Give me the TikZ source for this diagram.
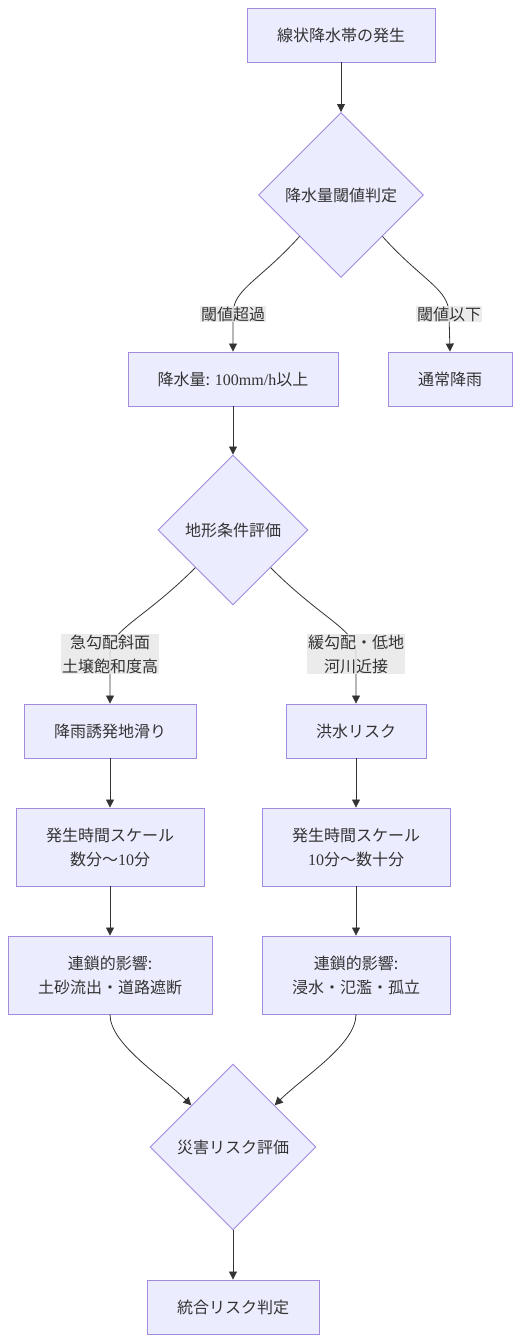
\documentclass[tikz,border=0pt]{standalone}
\usepackage{fontspec}
\usepackage{xcolor}
\usetikzlibrary{arrows.meta,positioning,shapes.geometric}
\setmainfont{Noto Sans CJK JP}
\newfontfamily\latfont{Liberation Serif}
\definecolor{nodeFill}{HTML}{ECECFF}
\definecolor{nodeLine}{HTML}{A28BDF}
\definecolor{arcLine}{HTML}{333333}
\definecolor{labelFill}{HTML}{E8E8E8}
\definecolor{txtGray}{HTML}{333333}
\tikzset{
  procbox/.style={draw=nodeLine, fill=nodeFill, line width=0.9pt,
    minimum height=54pt, align=center, text=txtGray,
    font=\fontsize{16}{24}\selectfont},
  decbox/.style={diamond, aspect=1, draw=nodeLine, fill=nodeFill, line width=0.9pt,
    inner sep=0pt, align=center, text=txtGray,
    font=\fontsize{16}{24}\selectfont},
  edgeLabel/.style={fill=labelFill, fill opacity=0.85, text opacity=1,
    inner sep=1pt, align=center, text=txtGray,
    font=\fontsize{16}{24}\selectfont},
  flowArc/.style={-{Triangle[length=8pt,width=8pt]}, draw=arcLine, line width=0.8pt},
}

\begin{document}
\begin{tikzpicture}[x=1pt,y=1pt]
    \useasboundingbox (0,0) rectangle (520,-1342);
    % nodes
    \node[procbox, minimum width=188pt] (start) at (341,-35) {線状降水帯の発生};
    \node[decbox, minimum size=165pt] (rainDec) at (341,-195) {降水量閾値判定};
    \node[procbox, minimum width=210pt] (heavy) at (233,-379) {降水量: {\latfont 100mm/h}以上};
    \node[procbox, minimum width=124pt] (normal) at (450,-379) {通常降雨};
    \node[decbox, minimum size=150pt] (terrDec) at (233,-530) {地形条件評価};
    \node[procbox, minimum width=172pt] (slide) at (110,-731) {降雨誘発地滑り};
    \node[procbox, minimum width=140pt] (flood) at (356,-731) {洪水リスク};
    \node[procbox, minimum width=188pt, minimum height=78pt] (slideTime) at (110,-847)
      {発生時間スケール\\数分～{\latfont 10}分};
    \node[procbox, minimum width=188pt, minimum height=78pt] (floodTime) at (356,-847)
      {発生時間スケール\\{\latfont 10}分～数十分};
    \node[procbox, minimum width=204pt, minimum height=78pt] (slideChain) at (110,-975)
      {連鎖的影響:\\土砂流出・道路遮断};
    \node[procbox, minimum width=188pt, minimum height=78pt] (floodChain) at (356,-975)
      {連鎖的影響:\\浸水・氾濫・孤立};
    \node[decbox, minimum size=166pt] (riskDec) at (233,-1147) {災害リスク評価};
    \node[procbox, minimum width=172pt] (final) at (233,-1307) {統合リスク判定};
    % label spots
    \coordinate (overPt) at (233,-314);
    \coordinate (underPt) at (449,-314);
    \coordinate (steepPt) at (110,-654);
    \coordinate (lowPt) at (356,-654);
    % connectors
    \draw[flowArc] (start) -- (rainDec);
    \draw[flowArc] (rainDec.south west) .. controls +(-132:60) and +(90:25) .. (overPt) -- (heavy.north);
    \draw[flowArc] (rainDec.south east) .. controls +(-48:60) and +(90:25) .. (underPt) -- (normal.north);
    \draw[flowArc] (heavy) -- (terrDec);
    \draw[flowArc] (terrDec.south west) .. controls +(-135:75) and +(90:25) .. (steepPt) -- (slide.north);
    \draw[flowArc] (terrDec.south east) .. controls +(-45:75) and +(90:25) .. (lowPt) -- (flood.north);
    \draw[flowArc] (slide) -- (slideTime);
    \draw[flowArc] (slideTime) -- (slideChain);
    \draw[flowArc] (flood) -- (floodTime);
    \draw[flowArc] (floodTime) -- (floodChain);
    \draw[flowArc] (slideChain.south) .. controls +(0,-30) and +(135:40) .. (riskDec.north west);
    \draw[flowArc] (floodChain.south) .. controls +(0,-30) and +(45:40) .. (riskDec.north east);
    \draw[flowArc] (riskDec) -- (final);
    % edge labels
    \node[edgeLabel] (overLbl) at (overPt) {閾値超過};
    \node[edgeLabel] (underLbl) at (underPt) {閾値以下};
    \node[edgeLabel] (steepLbl) at (steepPt) {急勾配斜面\\土壌飽和度高};
    \node[edgeLabel] (lowLbl) at (lowPt) {緩勾配・低地\\河川近接};
  \end{tikzpicture}
\end{document}
